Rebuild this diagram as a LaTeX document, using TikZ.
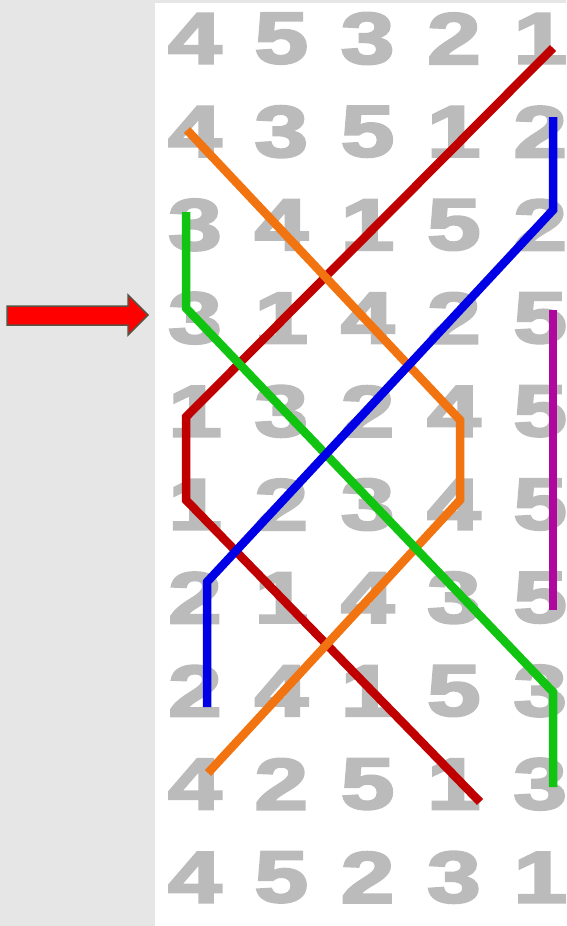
\documentclass[tikz,border=0pt]{standalone}
\usepackage{fontspec}
\setmainfont{Liberation Sans}
\newfontfamily\digitfont[BoldFeatures={FakeBold=3}]{Liberation Sans}
\usepackage{tikz}
\usetikzlibrary{positioning}

\definecolor{bggray}{HTML}{E6E6E6}
\definecolor{digitgray}{HTML}{BBBBBB}
\definecolor{pathred}{HTML}{C00000}
\definecolor{pathorange}{HTML}{F27410}
\definecolor{pathgreen}{HTML}{12C412}
\definecolor{pathblue}{HTML}{0000E6}
\definecolor{pathmagenta}{HTML}{B0089E}
\definecolor{arrowedge}{HTML}{5A5242}

\begin{document}
\begin{tikzpicture}[x=1pt, y=-1pt,
    digit/.style={inner sep=0pt, text=digitgray, xscale=1.32,
      font=\digitfont\fontsize{73}{73}\selectfont\bfseries},
    strand/.style={line width=8.5pt}]
  \clip (0,0) rectangle (566,926);

  % 背景
  \fill[bggray] (0,0) rectangle (566,926);
  \fill[white] (155,3) rectangle (566,926);

  % 数字の表
  \foreach \row [count=\r] in {{4,5,3,2,1},{4,3,5,1,2},{3,4,1,5,2},{3,1,4,2,5},
      {1,3,2,4,5},{1,2,3,4,5},{2,1,4,3,5},{2,4,1,5,3},{4,2,5,1,3},{4,5,2,3,1}}
    \foreach \d [count=\c] in \row
      \node[digit] (d\r\c) at ({195+86.3*(\c-1)}, {38.5+93.2*(\r-1)}) {\d};

  % 線の折れ点
  \coordinate (r1) at (553,48);  \coordinate (r2) at (186,417);
  \coordinate (r3) at (186,500); \coordinate (r4) at (480,802);
  \coordinate (o1) at (187,130); \coordinate (o2) at (460,420);
  \coordinate (o3) at (460,500); \coordinate (o4) at (208,773);
  \coordinate (g1) at (186,212); \coordinate (g2) at (186,308);
  \coordinate (g3) at (553,692); \coordinate (g4) at (553,787);
  \coordinate (b1) at (553,117); \coordinate (b2) at (553,210);
  \coordinate (b3) at (207,582); \coordinate (b4) at (207,707);
  \coordinate (m1) at (553,310); \coordinate (m2) at (553,610);

  % 色の線
  \draw[strand, pathred] (r1) -- (r2) -- (r3) -- (r4);
  \draw[strand, pathorange] (o1) -- (o2) -- (o3) -- (o4);
  \draw[strand, pathgreen] (g1) -- (g2) -- (g3) -- (g4);
  \draw[strand, pathblue] (b1) -- (b2) -- (b3) -- (b4);
  \draw[strand, pathmagenta] (m1) -- (m2);

  % 左の矢印
  \draw[fill=red, draw=arrowedge, line width=1.5pt]
    (7,306) -- (128,306) -- (128,295) -- (148,315) -- (128,335)
    -- (128,325) -- (7,325) -- cycle;
\end{tikzpicture}
\end{document}
